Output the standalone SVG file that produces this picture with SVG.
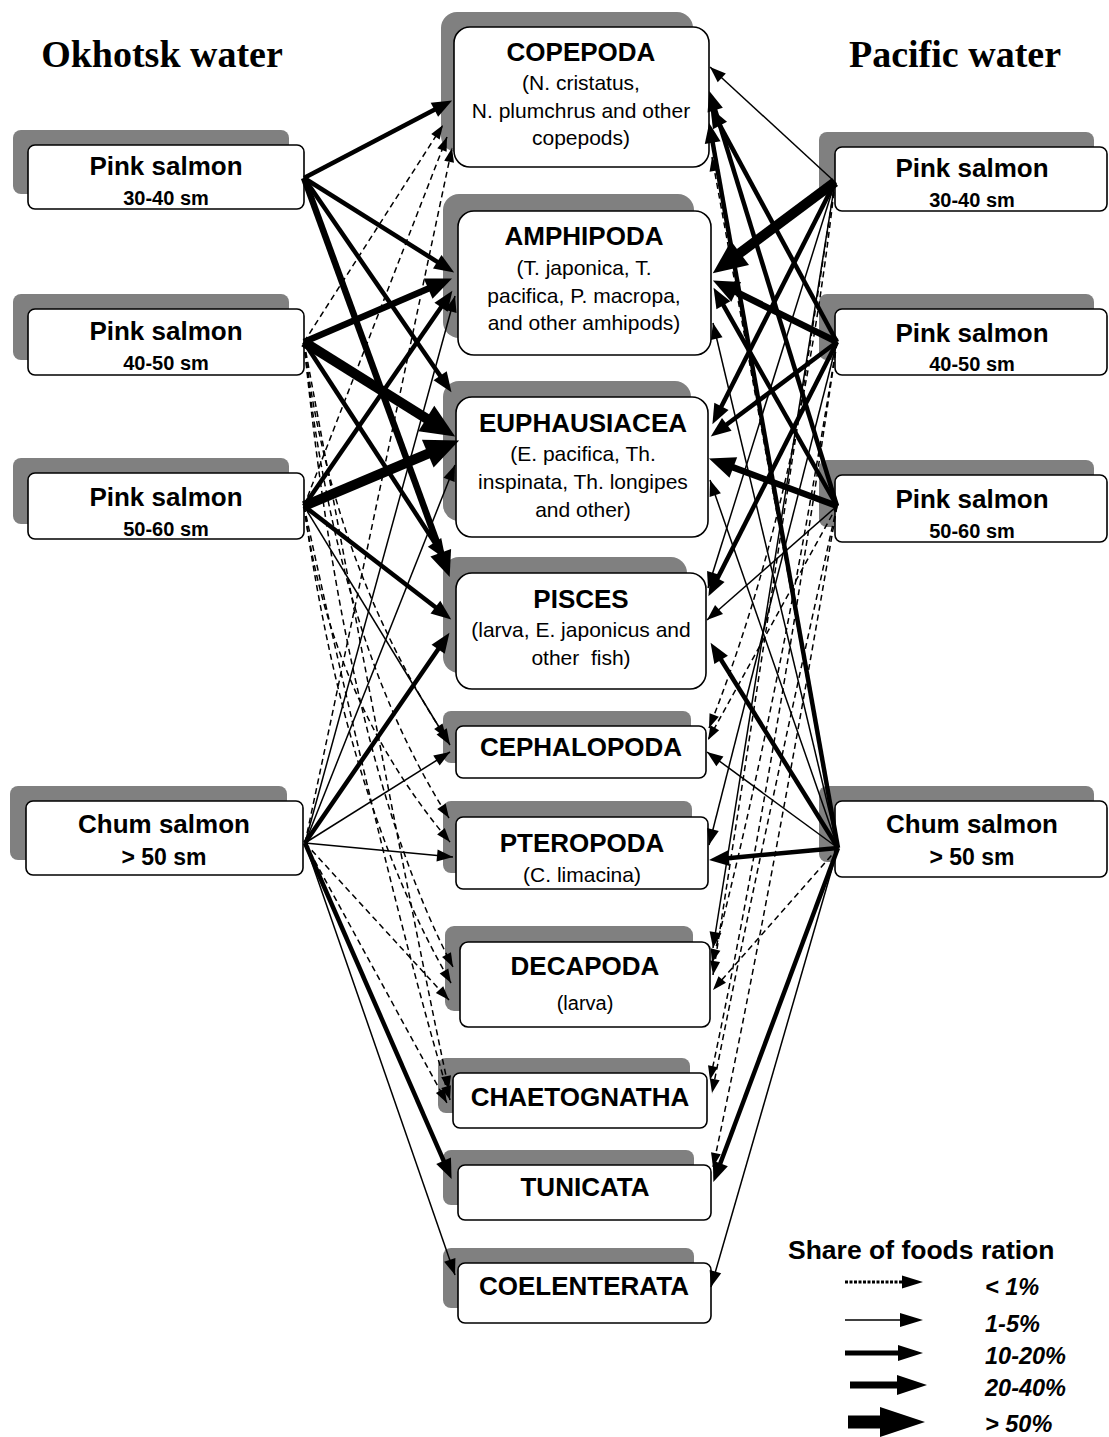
<svg xmlns="http://www.w3.org/2000/svg" width="1109" height="1437" viewBox="0 0 1109 1437">
<style>
.bg{fill:#fff}
.sh{fill:#808080}
.bx{fill:#fff;stroke:#000;stroke-width:1.6}
.hd{font-family:"Liberation Serif","Times New Roman",serif;font-weight:bold;font-size:38px;text-anchor:middle}
.nt{font-family:"Liberation Sans",Arial,sans-serif;font-weight:bold;font-size:26px;text-anchor:middle}
.ns{font-family:"Liberation Sans",Arial,sans-serif;font-weight:bold;font-size:20px;text-anchor:middle}
.nc{font-family:"Liberation Sans",Arial,sans-serif;font-weight:bold;font-size:23px;text-anchor:middle}
.sub{font-family:"Liberation Sans",Arial,sans-serif;font-size:21px;text-anchor:middle}
.lt{font-family:"Liberation Sans",Arial,sans-serif;font-weight:bold;font-size:26.5px}
.li{font-family:"Liberation Sans",Arial,sans-serif;font-weight:bold;font-style:italic;font-size:23.5px}
#conn path{fill:none;stroke:#000}
#conn .d{stroke-width:1.5;stroke-dasharray:6 4;marker-end:url(#mDash)}
#conn .t{stroke-width:1.5;marker-end:url(#mThin)}
#conn .m{stroke-width:4.5;marker-end:url(#mMed)}
#conn .k{stroke-width:6.5;marker-end:url(#mThick)}
#conn .x{stroke-width:10;marker-end:url(#mMax)}
</style>
<defs>
<marker id="mDash" markerUnits="userSpaceOnUse" markerWidth="20" markerHeight="20" refX="14" refY="0" orient="auto" style="overflow:visible"><path d="M0,-5 L14,0 L0,5 z" fill="#000"/></marker>
<marker id="mThin" markerUnits="userSpaceOnUse" markerWidth="20" markerHeight="20" refX="16" refY="0" orient="auto" style="overflow:visible"><path d="M0,-6 L16,0 L0,6 z" fill="#000"/></marker>
<marker id="mMed" markerUnits="userSpaceOnUse" markerWidth="30" markerHeight="30" refX="1" refY="0" orient="auto" style="overflow:visible"><path d="M0,-8 L20,0 L0,8 z" fill="#000"/></marker>
<marker id="mThick" markerUnits="userSpaceOnUse" markerWidth="30" markerHeight="30" refX="1" refY="0" orient="auto" style="overflow:visible"><path d="M0,-11 L26,0 L0,11 z" fill="#000"/></marker>
<marker id="mMax" markerUnits="userSpaceOnUse" markerWidth="40" markerHeight="40" refX="1" refY="0" orient="auto" style="overflow:visible"><path d="M0,-15 L34,0 L0,15 z" fill="#000"/></marker>
</defs>
<rect class="bg" x="0" y="0" width="1109" height="1437"/>

<text class="hd" x="162" y="67">Okhotsk water</text>
<text class="hd" x="955" y="67">Pacific water</text>

<!-- Okhotsk nodes -->
<g id="ok-pink-30-40"><rect class="sh" x="13" y="130" width="276" height="64" rx="8"/><rect class="bx" x="28" y="145" width="276" height="64" rx="7"/><text class="nt" x="166" y="175">Pink salmon</text><text class="ns" x="166" y="205">30-40 sm</text></g>
<g id="ok-pink-40-50"><rect class="sh" x="13" y="294" width="276" height="66" rx="8"/><rect class="bx" x="28" y="309" width="276" height="66" rx="7"/><text class="nt" x="166" y="340">Pink salmon</text><text class="ns" x="166" y="370">40-50 sm</text></g>
<g id="ok-pink-50-60"><rect class="sh" x="13" y="458" width="276" height="66" rx="8"/><rect class="bx" x="28" y="473" width="276" height="66" rx="7"/><text class="nt" x="166" y="506">Pink salmon</text><text class="ns" x="166" y="536">50-60 sm</text></g>
<g id="ok-chum"><rect class="sh" x="10" y="786" width="277" height="74" rx="8"/><rect class="bx" x="26" y="801" width="277" height="74" rx="7"/><text class="nt" x="164" y="833">Chum salmon</text><text class="nc" x="164" y="865">&gt; 50 sm</text></g>

<!-- Pacific nodes -->
<g id="pa-pink-30-40"><rect class="sh" x="819" y="132" width="275" height="64" rx="8"/><rect class="bx" x="835" y="147" width="272" height="64" rx="7"/><text class="nt" x="972" y="177">Pink salmon</text><text class="ns" x="972" y="207">30-40 sm</text></g>
<g id="pa-pink-40-50"><rect class="sh" x="819" y="294" width="275" height="66" rx="8"/><rect class="bx" x="835" y="309" width="272" height="66" rx="7"/><text class="nt" x="972" y="342">Pink salmon</text><text class="ns" x="972" y="371">40-50 sm</text></g>
<g id="pa-pink-50-60"><rect class="sh" x="819" y="460" width="275" height="67" rx="8"/><rect class="bx" x="835" y="475" width="272" height="67" rx="7"/><text class="nt" x="972" y="508">Pink salmon</text><text class="ns" x="972" y="538">50-60 sm</text></g>
<g id="pa-chum"><rect class="sh" x="819" y="786" width="275" height="76" rx="8"/><rect class="bx" x="835" y="801" width="272" height="76" rx="7"/><text class="nt" x="972" y="833">Chum salmon</text><text class="nc" x="972" y="865">&gt; 50 sm</text></g>

<!-- Food nodes -->
<g id="copepoda"><rect class="sh" x="441" y="12" width="252" height="140" rx="16"/><rect class="bx" x="454" y="27" width="255" height="140" rx="16"/><text class="nt" x="581" y="61">COPEPODA</text><text class="sub" x="581" y="90">(N. cristatus,</text><text class="sub" x="581" y="118">N. plumchrus and other</text><text class="sub" x="581" y="145">copepods)</text></g>
<g id="amphipoda"><rect class="sh" x="443" y="194" width="251" height="144" rx="16"/><rect class="bx" x="458" y="211" width="253" height="144" rx="16"/><text class="nt" x="584" y="245">AMPHIPODA</text><text class="sub" x="584" y="275">(T. japonica, T.</text><text class="sub" x="584" y="303">pacifica, P. macropa,</text><text class="sub" x="584" y="330">and other amhipods)</text></g>
<g id="euphausiacea"><rect class="sh" x="443" y="381" width="248" height="140" rx="16"/><rect class="bx" x="456" y="397" width="252" height="140" rx="16"/><text class="nt" x="583" y="432">EUPHAUSIACEA</text><text class="sub" x="583" y="461">(E. pacifica, Th.</text><text class="sub" x="583" y="489">inspinata, Th. longipes</text><text class="sub" x="583" y="517">and other)</text></g>
<g id="pisces"><rect class="sh" x="443" y="557" width="244" height="116" rx="16"/><rect class="bx" x="456" y="573" width="250" height="116" rx="16"/><text class="nt" x="581" y="608">PISCES</text><text class="sub" x="581" y="637">(larva, E. japonicus and</text><text class="sub" x="581" y="665" xml:space="preserve">other  fish)</text></g>
<g id="cephalopoda"><rect class="sh" x="443" y="711" width="248" height="52" rx="8"/><rect class="bx" x="456" y="726" width="250" height="52" rx="7"/><text class="nt" x="581" y="756">CEPHALOPODA</text></g>
<g id="pteropoda"><rect class="sh" x="443" y="801" width="249" height="72" rx="8"/><rect class="bx" x="456" y="817" width="252" height="72" rx="7"/><text class="nt" x="582" y="852">PTEROPODA</text><text class="sub" x="582" y="882">(C. limacina)</text></g>
<g id="decapoda"><rect class="sh" x="445" y="926" width="248" height="85" rx="9"/><rect class="bx" x="460" y="942" width="250" height="85" rx="8"/><text class="nt" x="585" y="975">DECAPODA</text><text class="sub" x="585" y="1010" style="font-size:20px">(larva)</text></g>
<g id="chaetognatha"><rect class="sh" x="438" y="1058" width="252" height="55" rx="8"/><rect class="bx" x="453" y="1073" width="254" height="55" rx="7"/><text class="nt" x="580" y="1106">CHAETOGNATHA</text></g>
<g id="tunicata"><rect class="sh" x="443" y="1150" width="251" height="55" rx="8"/><rect class="bx" x="458" y="1165" width="253" height="55" rx="7"/><text class="nt" x="585" y="1196">TUNICATA</text></g>
<g id="coelenterata"><rect class="sh" x="443" y="1248" width="251" height="60" rx="8"/><rect class="bx" x="458" y="1263" width="253" height="60" rx="7"/><text class="nt" x="584" y="1295">COELENTERATA</text></g>

<!-- Connectors -->
<g id="conn">
<path class="m" d="M304,178 L435.3,109.3"/>
<path class="m" d="M304,178 L438.1,262.3"/>
<path class="m" d="M304,178 L440.7,376.5"/>
<path class="k" d="M304,178 L441.1,553.6"/>
<path class="k" d="M304,342 L429.1,288.3"/>
<path class="x" d="M304,342 L427.2,419"/>
<path class="m" d="M304,342 L435.1,543.2"/>
<path class="d" d="M304,342 L443,125"/>
<path class="d" d="M304,342 Q330,560 446,738"/>
<path class="d" d="M304,342 Q335,640 449,818"/>
<path class="d" d="M304,342 Q345,760 453,967"/>
<path class="d" d="M304,342 Q400,860 449,1090"/>
<path class="m" d="M304,506 L441.6,306.5"/>
<path class="x" d="M304,506 L428.7,453.3"/>
<path class="m" d="M304,506 L436.2,607.8"/>
<path class="t" d="M304,506 L450,745"/>
<path class="d" d="M304,506 L447,137"/>
<path class="d" d="M304,506 Q330,700 450,842"/>
<path class="d" d="M304,506 Q345,800 451,983"/>
<path class="d" d="M304,506 Q385,880 450,1100"/>
<path class="m" d="M305,843 L438.7,648.5"/>
<path class="m" d="M305,843 L444,1161.7"/>
<path class="t" d="M305,843 L455,296"/>
<path class="t" d="M305,843 L455,465"/>
<path class="t" d="M305,843 L450,752"/>
<path class="t" d="M305,843 L453,857"/>
<path class="t" d="M305,843 L455,1275"/>
<path class="d" d="M305,843 L452,148"/>
<path class="d" d="M305,843 L449,1000"/>
<path class="d" d="M305,843 L447,1103"/>
<path class="x" d="M835,182 L739.2,253.6"/>
<path class="m" d="M835,182 L721,407.2"/>
<path class="t" d="M835,182 L710,67"/>
<path class="t" d="M835,182 L708,588"/>
<path class="t" d="M835,182 L713,948"/>
<path class="d" d="M835,182 Q800,500 709,728"/>
<path class="d" d="M835,182 L713,975"/>
<path class="m" d="M837,342 L719.5,124.6"/>
<path class="k" d="M837,342 L735.3,291.5"/>
<path class="m" d="M837,342 L726,425"/>
<path class="m" d="M837,342 L717,579.2"/>
<path class="t" d="M837,342 L709,845"/>
<path class="d" d="M837,342 Q780,700 712,963"/>
<path class="d" d="M837,342 Q770,800 710,1080"/>
<path class="m" d="M837,506 L714.9,109.1"/>
<path class="m" d="M837,506 L722.9,304.4"/>
<path class="k" d="M837,506 L732.4,467.1"/>
<path class="t" d="M837,506 L707,620"/>
<path class="d" d="M837,506 L708,740"/>
<path class="d" d="M837,506 Q760,850 712,1093"/>
<path class="d" d="M837,506 Q770,900 713,1167"/>
<path class="m" d="M838,848 L712.5,141.7"/>
<path class="m" d="M838,848 L720.6,659"/>
<path class="m" d="M838,848 L727.9,858.2"/>
<path class="m" d="M838,848 L720,1164.3"/>
<path class="t" d="M838,848 L713,323"/>
<path class="t" d="M838,848 L710,480"/>
<path class="t" d="M838,848 L707,752"/>
<path class="t" d="M838,848 L711,1287"/>
<path class="d" d="M838,848 L712,157"/>
<path class="d" d="M838,848 L713,990"/>
</g>

<!-- Legend -->
<g id="legend">
<text class="lt" x="788" y="1259">Share of foods ration</text>
<line x1="845" y1="1282" x2="904" y2="1282" stroke="#000" stroke-width="3" stroke-dasharray="3 1.5"/>
<path d="M902,1275.5 L923,1282 L902,1288.5 z" fill="#000"/>
<text class="li" x="985" y="1295">&lt; 1%</text>
<line x1="845" y1="1320" x2="902" y2="1320" stroke="#000" stroke-width="1.5"/>
<path d="M900,1313 L923,1320 L900,1327 z" fill="#000"/>
<text class="li" x="985" y="1332">1-5%</text>
<line x1="845" y1="1353" x2="900" y2="1353" stroke="#000" stroke-width="5"/>
<path d="M898,1345 L923,1353 L898,1361 z" fill="#000"/>
<text class="li" x="985" y="1364">10-20%</text>
<line x1="850" y1="1385" x2="899" y2="1385" stroke="#000" stroke-width="7"/>
<path d="M897,1375 L927,1385 L897,1395 z" fill="#000"/>
<text class="li" x="985" y="1396">20-40%</text>
<line x1="848" y1="1422" x2="882" y2="1422" stroke="#000" stroke-width="13"/>
<path d="M880,1407 L925,1422 L880,1437 z" fill="#000"/>
<text class="li" x="985" y="1432">&gt; 50%</text>
</g>
</svg>
